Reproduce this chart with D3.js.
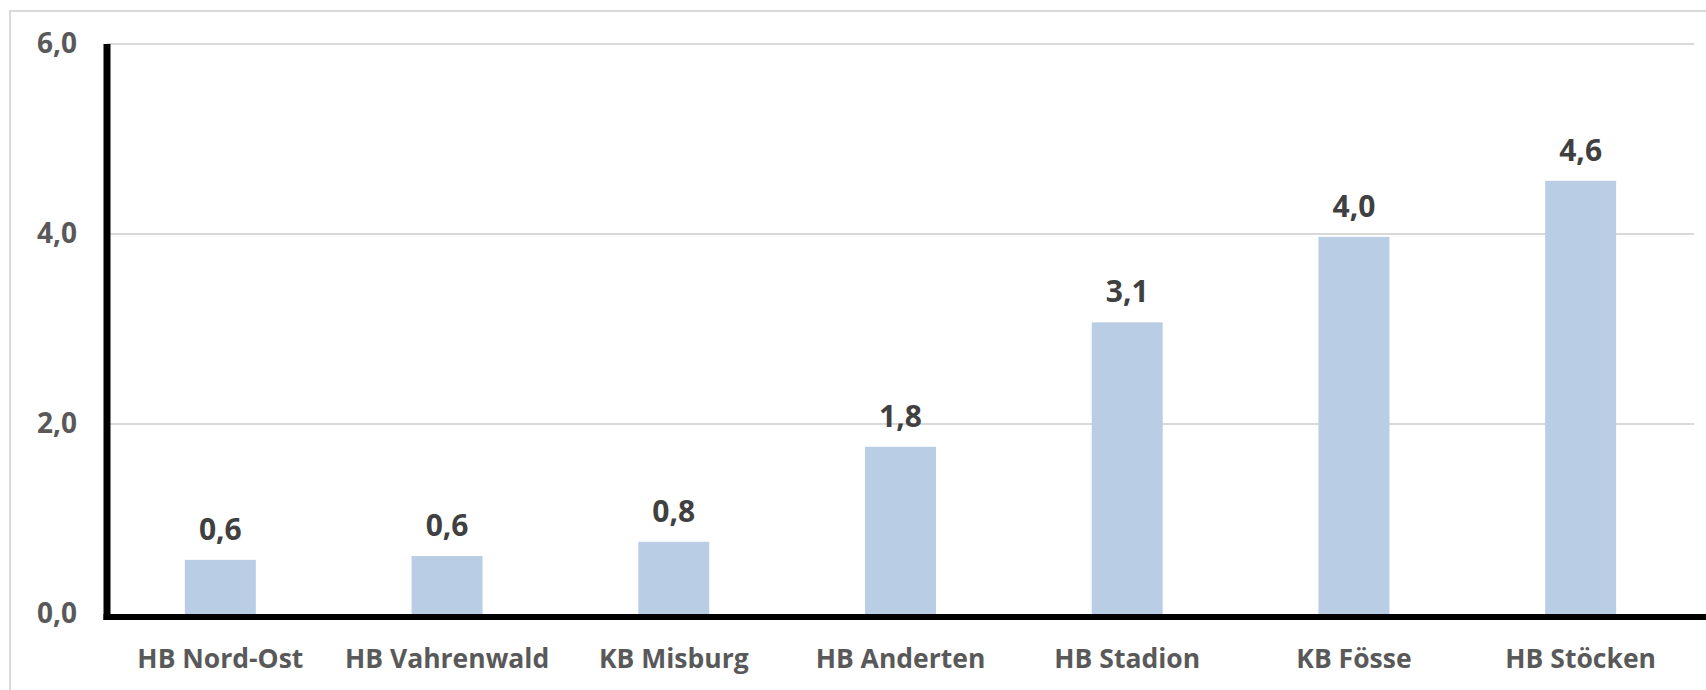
<!DOCTYPE html>
<html>
<head>
<meta charset="utf-8">
<script src="https://cdn.jsdelivr.net/npm/d3@7"></script>
<style>
  html, body { margin: 0; padding: 0; background: #fff; }
  svg { display: block; }
</style>
</head>
<body>
<svg id="chart" width="1706" height="690"></svg>
<script>
// Categories and values
const categories = ["HB Nord-Ost", "HB Vahrenwald", "KB Misburg", "HB Anderten", "HB Stadion", "KB Fösse", "HB Stöcken"];
const values = [0.57, 0.61, 0.76, 1.76, 3.07, 3.97, 4.56];
const yTicks = [0, 2, 4, 6];

const fmt = v => d3.format(".1f")(v).replace(".", ",");

const svg = d3.select("#chart");
const W = 1706, H = 690;
const margin = { left: 107, right: 12, top: 44, bottom: 76 };
const plotRight = W - margin.right;
const plotBottom = H - margin.bottom;

const x = d3.scaleBand()
  .domain(categories)
  .range([margin.left, plotRight])
  .paddingInner(0.687)
  .paddingOuter(0.3435);

const y = d3.scaleLinear()
  .domain([0, 6])
  .range([plotBottom, margin.top]);

// chart frame
svg.append("rect")
  .attr("x", 10).attr("y", 11)
  .attr("width", W).attr("height", H)
  .attr("fill", "none")
  .attr("stroke", "#d9d9d9")
  .attr("stroke-width", 2);

// gridlines
svg.append("g")
  .selectAll("line")
  .data(yTicks.filter(d => d > 0))
  .join("line")
  .attr("x1", margin.left).attr("x2", plotRight)
  .attr("y1", d => y(d)).attr("y2", d => y(d))
  .attr("stroke", "#d9d9d9")
  .attr("stroke-width", 2);

// bars
svg.append("g")
  .selectAll("rect")
  .data(values)
  .join("rect")
  .attr("x", (d, i) => x(categories[i]))
  .attr("width", x.bandwidth())
  .attr("y", d => y(d))
  .attr("height", d => y(0) - y(d))
  .attr("fill", "#b9cde5");

// value labels
svg.append("g")
  .selectAll("text")
  .data(values)
  .join("text")
  .attr("x", (d, i) => x(categories[i]) + x.bandwidth() / 2)
  .attr("y", d => y(d) - 20)
  .attr("text-anchor", "middle")
  .attr("font-family", "'Open Sans', sans-serif")
  .attr("font-weight", 700)
  .attr("font-size", 30)
  .attr("fill", "#404040")
  .text(d => fmt(d));

// y axis
const yAxis = d3.axisLeft(y)
  .tickValues(yTicks)
  .tickSize(0)
  .tickPadding(30)
  .tickFormat(fmt);

const gy = svg.append("g")
  .attr("transform", `translate(${margin.left},0)`)
  .call(yAxis);
gy.select(".domain").remove();
gy.selectAll("text")
  .attr("font-family", "'Open Sans', sans-serif")
  .attr("font-weight", 700)
  .attr("font-size", 28)
  .attr("fill", "#595959");

// x axis
const xAxis = d3.axisBottom(x).tickSize(0).tickPadding(35);
const gx = svg.append("g")
  .attr("transform", `translate(0,${plotBottom})`)
  .call(xAxis);
gx.select(".domain").remove();
gx.selectAll("text")
  .attr("font-family", "'Open Sans', sans-serif")
  .attr("font-weight", 700)
  .attr("font-size", 26.5)
  .attr("fill", "#595959");

// heavy axis lines
svg.append("line")
  .attr("x1", margin.left).attr("x2", margin.left)
  .attr("y1", margin.top).attr("y2", plotBottom + 6)
  .attr("stroke", "#000").attr("stroke-width", 7);
svg.append("line")
  .attr("x1", margin.left - 3.5).attr("x2", W)
  .attr("y1", plotBottom + 3).attr("y2", plotBottom + 3)
  .attr("stroke", "#000").attr("stroke-width", 6);
</script>
</body>
</html>
